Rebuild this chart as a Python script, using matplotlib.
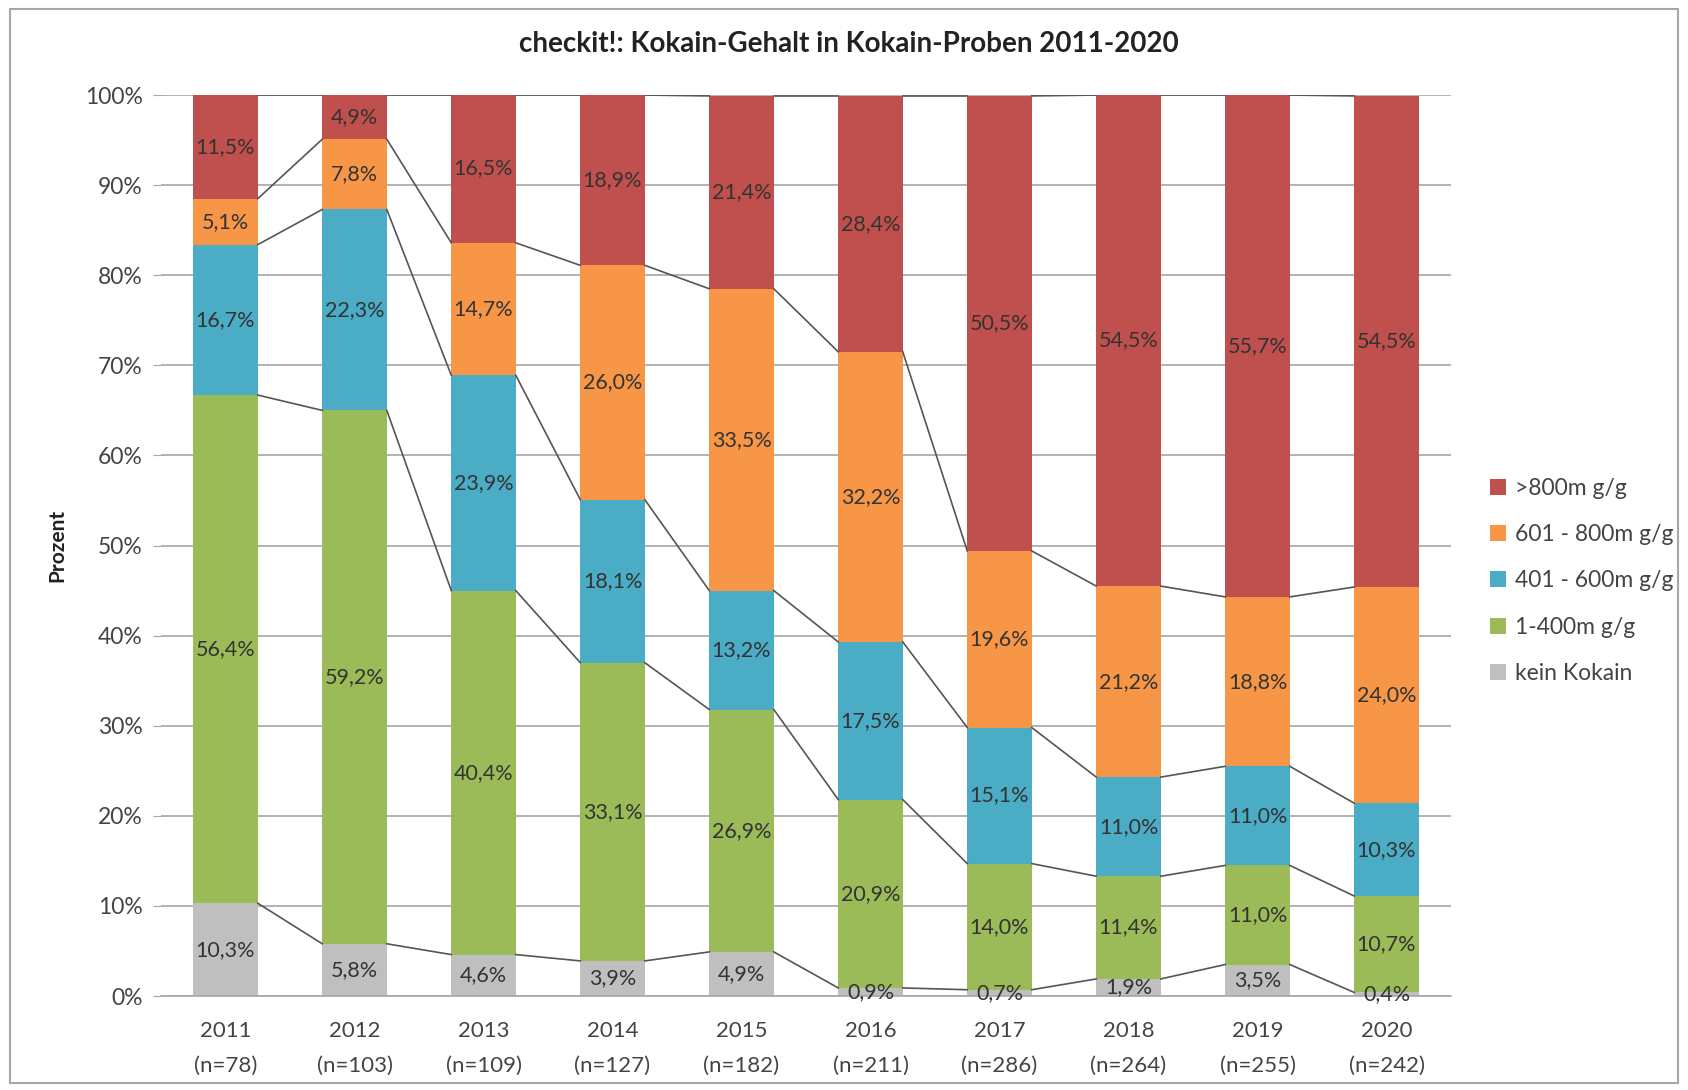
import matplotlib
matplotlib.use("Agg")
import matplotlib.pyplot as plt
import numpy as np

plt.rcParams['font.family'] = ['Lato', 'DejaVu Sans']

years = ["2011", "2012", "2013", "2014", "2015", "2016", "2017", "2018", "2019", "2020"]
samples = [78, 103, 109, 127, 182, 211, 286, 264, 255, 242]

# shares per class in percent, bottom to top
kein_kokain = [10.3, 5.8, 4.6, 3.9, 4.9, 0.9, 0.7, 1.9, 3.5, 0.4]
bis_400 = [56.4, 59.2, 40.4, 33.1, 26.9, 20.9, 14.0, 11.4, 11.0, 10.7]
bis_600 = [16.7, 22.3, 23.9, 18.1, 13.2, 17.5, 15.1, 11.0, 11.0, 10.3]
bis_800 = [5.1, 7.8, 14.7, 26.0, 33.5, 32.2, 19.6, 21.2, 18.8, 24.0]
ueber_800 = [11.5, 4.9, 16.5, 18.9, 21.4, 28.4, 50.5, 54.5, 55.7, 54.5]

series = [
    ("kein Kokain", kein_kokain, "#BFBFBF"),
    ("1-400m g/g", bis_400, "#9BBB59"),
    ("401 - 600m g/g", bis_600, "#4BACC6"),
    ("601 - 800m g/g", bis_800, "#F79646"),
    (">800m g/g", ueber_800, "#C0504D"),
]

fig = plt.figure(figsize=(16.88, 10.90), dpi=100)
ax = fig.add_axes([0.0954, 0.0862, 0.7642, 0.8266])

x = np.arange(len(years))
width = 0.5
bottom = np.zeros(len(years))
handles = []
for name, vals, col in series:
    vals = np.array(vals)
    b = ax.bar(x, vals, width, bottom=bottom, color=col, label=name, zorder=2)
    handles.append(b)
    for xi, v, b0 in zip(x, vals, bottom):
        ax.text(xi, b0 + v / 2, f"{v:.1f}".replace(".", ",") + "%",
                ha="center", va="center", fontsize=15.5, color="#333333", zorder=4)
    bottom = bottom + vals
    # series lines between neighbouring bars
    top = np.minimum(bottom, 100)
    for i in range(len(years) - 1):
        ax.plot([x[i] + width / 2, x[i + 1] - width / 2], [top[i], top[i + 1]],
                color="#555555", lw=1.2, zorder=3)

ax.set_xlim(-0.5, len(years) - 0.5)
ax.set_ylim(0, 100)
ax.set_yticks(np.arange(0, 101, 10))
ax.set_yticklabels([f"{v}%" for v in range(0, 101, 10)])
ax.set_xticks(x)
ax.set_xticklabels([f"{y}\n(n={n})" for y, n in zip(years, samples)], linespacing=1.95)
ax.grid(axis="y", color="#A6A6A6", lw=1.2, zorder=0)
for s in ["top", "right", "left"]:
    ax.spines[s].set_visible(False)
ax.spines["bottom"].set_color("#A6A6A6")
ax.spines["bottom"].set_linewidth(1.2)
ax.tick_params(axis="y", length=6, color="#A6A6A6", labelsize=16.5, labelcolor="#444444", pad=7)
ax.tick_params(axis="x", length=0, labelsize=16, labelcolor="#444444", pad=18)
ax.set_ylabel("Prozent", fontsize=15, fontweight="bold", color="#222222", labelpad=13)

fig.text(0.503, 0.960, "checkit!: Kokain-Gehalt in Kokain-Proben 2011-2020",
         ha="center", va="center", fontsize=20, fontweight="bold", color="#222222")

fig.legend(handles[::-1], [s[0] for s in series][::-1], loc="center left",
           bbox_to_anchor=(0.876, 0.467), frameon=False, fontsize=16.5,
           handlelength=0.7, handleheight=0.7, handletextpad=0.4,
           labelspacing=1.1, borderpad=0, labelcolor="#444444")

fig.patches.append(plt.Rectangle((0.006, 0.006), 0.988, 0.986, transform=fig.transFigure,
                                 fill=False, edgecolor="#A6A6A6", lw=1.5))

fig.savefig("out.png", dpi=100)
